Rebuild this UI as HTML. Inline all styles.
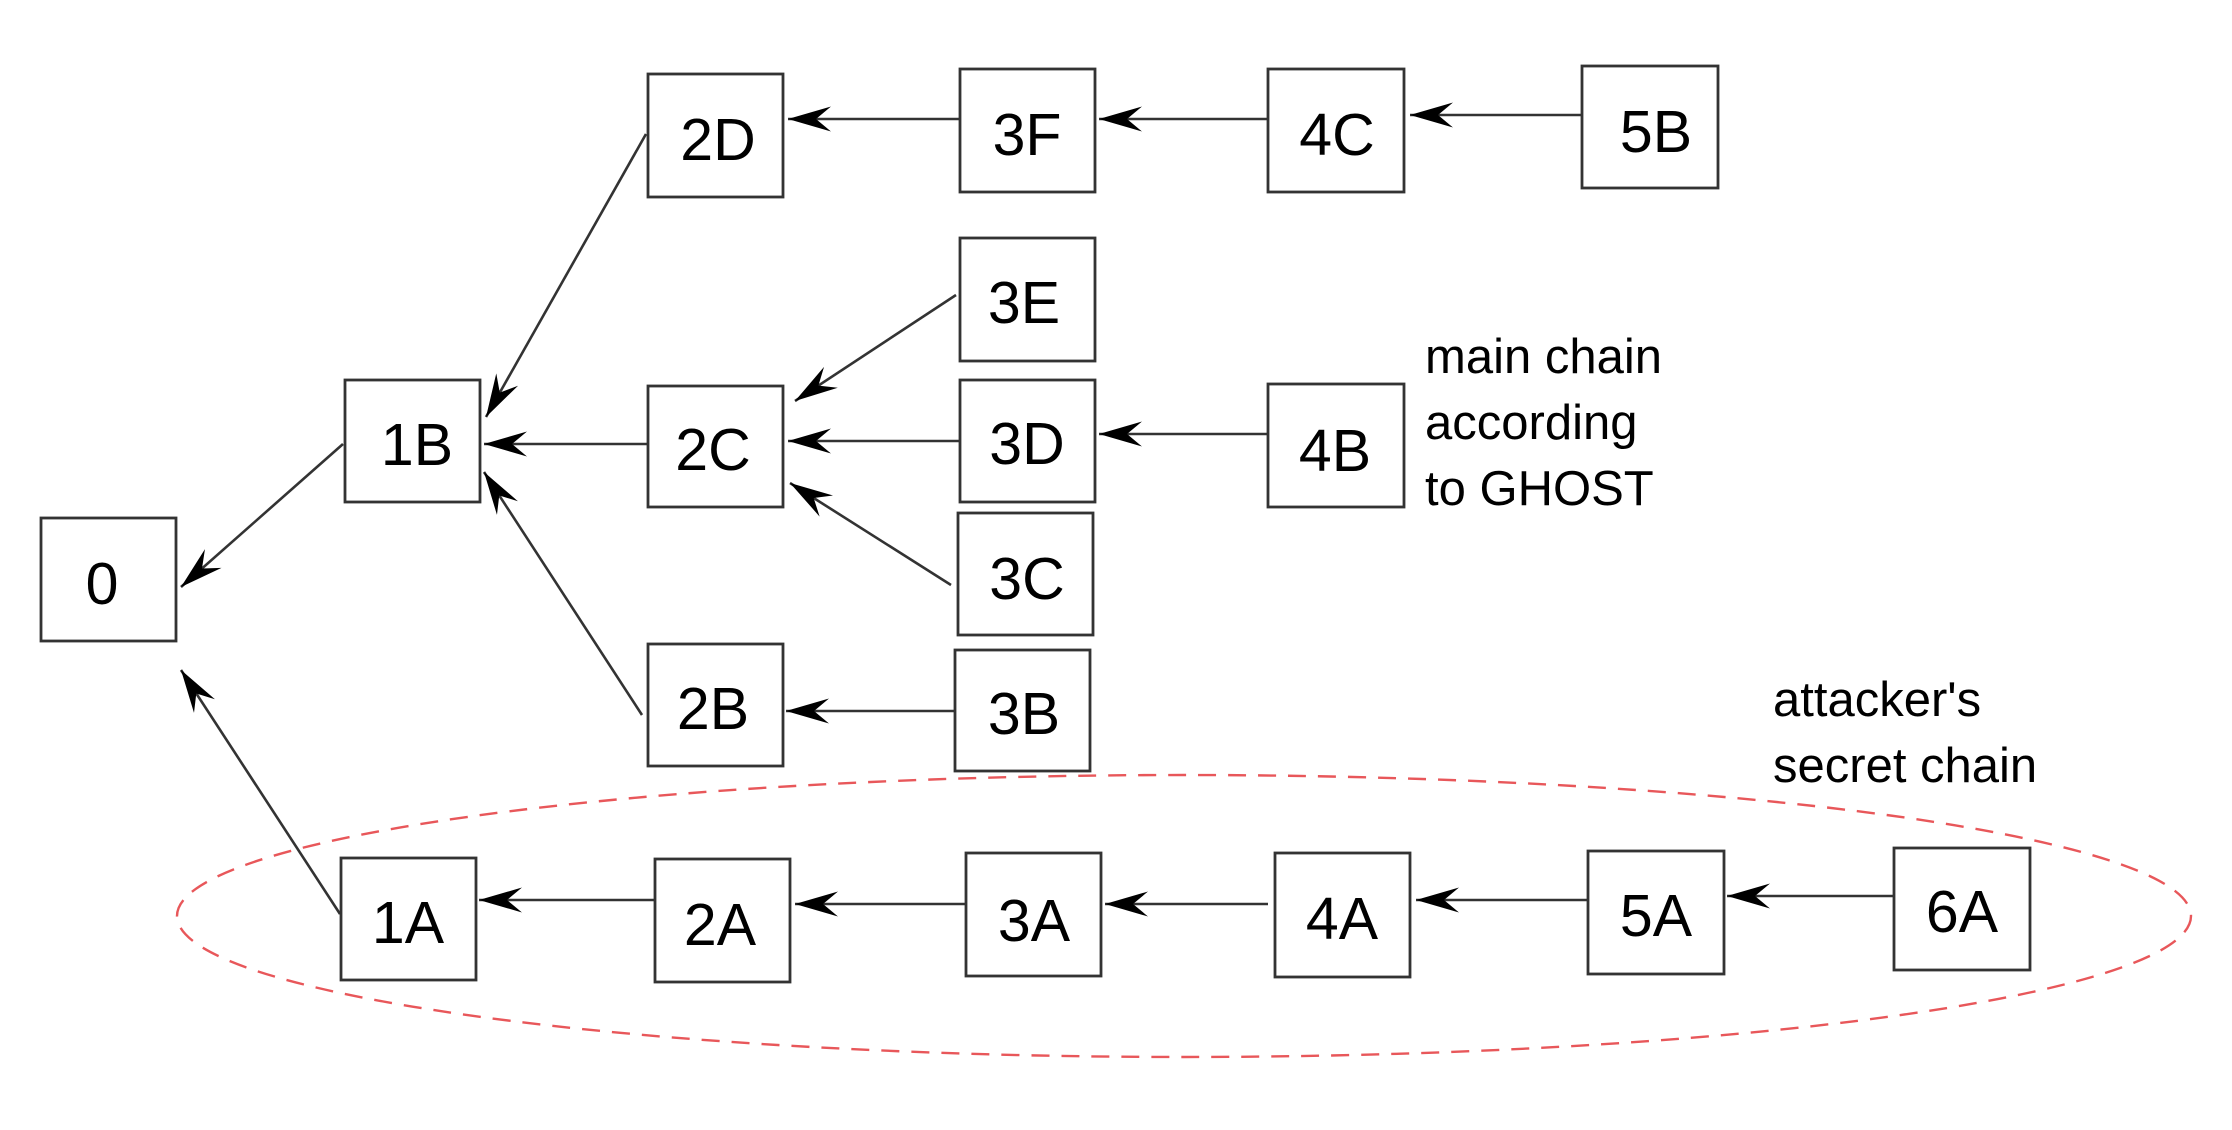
<!DOCTYPE html>
<html><head><meta charset="utf-8"><style>
html,body{margin:0;padding:0;background:#fff;}
svg{display:block;}
text{font-family:"Liberation Sans",Arial,sans-serif;fill:#000;}
.b{font-size:59px;text-anchor:middle;}
.t{font-size:49px;}
</style></head><body>
<svg width="2232" height="1130" viewBox="0 0 2232 1130" xmlns="http://www.w3.org/2000/svg">
<defs>
<marker id="a" markerUnits="userSpaceOnUse" markerWidth="50" markerHeight="30" viewBox="-45 -15 50 30" refX="0" refY="0" orient="auto">
<path d="M0,0 L-43,-12.5 L-28,0 L-43,12.5 Z" fill="#000"/>
</marker>
</defs>
<ellipse cx="1184" cy="916" rx="1007" ry="141" fill="none" stroke="#e8575a" stroke-width="2.4" stroke-dasharray="18,12"/>
<g fill="#fff" stroke="#333" stroke-width="2.8">
<rect x="41" y="518" width="135" height="123"/>
<rect x="345" y="380" width="135" height="122"/>
<rect x="648" y="74" width="135" height="123"/>
<rect x="960" y="69" width="135" height="123"/>
<rect x="960" y="238" width="135" height="123"/>
<rect x="648" y="386" width="135" height="121"/>
<rect x="960" y="380" width="135" height="122"/>
<rect x="958" y="513" width="135" height="122"/>
<rect x="648" y="644" width="135" height="122"/>
<rect x="955" y="650" width="135" height="121"/>
<rect x="341" y="858" width="135" height="122"/>
<rect x="655" y="859" width="135" height="123"/>
<rect x="966" y="853" width="135" height="123"/>
<rect x="1268" y="69" width="136" height="123"/>
<rect x="1582" y="66" width="136" height="122"/>
<rect x="1268" y="384" width="136" height="123"/>
<rect x="1275" y="853" width="135" height="124"/>
<rect x="1588" y="851" width="136" height="123"/>
<rect x="1894" y="848" width="136" height="122"/>
</g>
<g stroke="#333" stroke-width="2.6" marker-end="url(#a)">
<line x1="646" y1="134" x2="486" y2="417"/>
<line x1="343" y1="444" x2="181" y2="587"/>
<line x1="340" y1="914" x2="181" y2="670"/>
<line x1="642" y1="715" x2="484" y2="472"/>
<line x1="956" y1="295" x2="795" y2="401"/>
<line x1="951" y1="585" x2="790" y2="483"/>
<line x1="960" y1="119" x2="788" y2="119"/>
<line x1="648" y1="444" x2="484" y2="444"/>
<line x1="960" y1="441" x2="788" y2="441"/>
<line x1="955" y1="711" x2="786" y2="711"/>
<line x1="655" y1="900" x2="479" y2="900"/>
<line x1="966" y1="904" x2="795" y2="904"/>
<line x1="1268" y1="119" x2="1099" y2="119"/>
<line x1="1582" y1="115" x2="1410" y2="115"/>
<line x1="1268" y1="434" x2="1099" y2="434"/>
<line x1="1268" y1="904" x2="1105" y2="904"/>
<line x1="1588" y1="900" x2="1416" y2="900"/>
<line x1="1894" y1="896" x2="1727" y2="896"/>
</g>
<g class="b">
<text x="102" y="604" class="b">0</text>
<text x="417" y="465" class="b">1B</text>
<text x="718" y="160" class="b">2D</text>
<text x="1027" y="155" class="b">3F</text>
<text x="1024" y="323" class="b">3E</text>
<text x="713" y="470" class="b">2C</text>
<text x="1027" y="464" class="b">3D</text>
<text x="1027" y="599" class="b">3C</text>
<text x="713" y="729" class="b">2B</text>
<text x="1024" y="734" class="b">3B</text>
<text x="408" y="943" class="b">1A</text>
<text x="720" y="945" class="b">2A</text>
<text x="1034" y="941" class="b">3A</text>
<text x="1337" y="155" class="b">4C</text>
<text x="1656" y="152" class="b">5B</text>
<text x="1335" y="471" class="b">4B</text>
<text x="1342" y="939" class="b">4A</text>
<text x="1656" y="936" class="b">5A</text>
<text x="1962" y="932" class="b">6A</text>
</g>
<text x="1425" y="373" class="t">main chain</text>
<text x="1425" y="439" class="t">according</text>
<text x="1425" y="505" class="t">to GHOST</text>
<text x="1773" y="716" class="t">attacker's</text>
<text x="1773" y="782" class="t">secret chain</text>
</svg>
</body></html>
